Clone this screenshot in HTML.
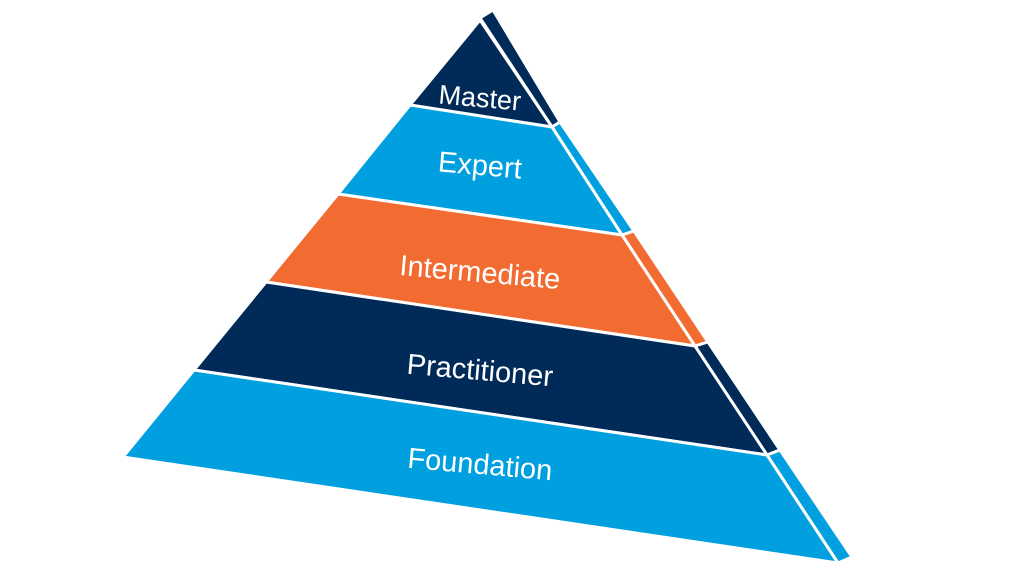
<!DOCTYPE html>
<html><head><meta charset="utf-8"><style>
html,body{margin:0;padding:0;background:#fff;width:1024px;height:580px;overflow:hidden}
text{font-family:"Liberation Sans",sans-serif;fill:#fff;font-size:29px}
</style></head><body>
<svg width="1024" height="580" viewBox="0 0 1024 580" xmlns="http://www.w3.org/2000/svg">
<g stroke="#fff" stroke-width="3" stroke-linejoin="miter">
<polygon points="480,18 493,10 560,122 552,127" fill="#002B59"/>
<polygon points="552,127 560,122 634,231 622,235" fill="#009FDF"/>
<polygon points="622,235 634,231 708,342 695,346" fill="#F26B30"/>
<polygon points="695,346 708,342 780,450 767,455" fill="#002B59"/>
<polygon points="767,455 780,450 852,557 838,563" fill="#009FDF"/>
<polygon points="480,20 552,127 410,105" fill="#002B59"/>
<polygon points="410,105 552,127 622,235 338,194" fill="#009FDF"/>
<polygon points="338,194 622,235 695,346 266,282" fill="#F26B30"/>
<polygon points="266,282 695,346 767,455 194,370" fill="#002B59"/>
<polygon points="194,370 767,455 838,563 123,457" fill="#009FDF"/>
</g>
<text x="480" y="107" text-anchor="middle" transform="rotate(5 480 97)" style="font-size:27px">Master</text>
<text x="480" y="175" text-anchor="middle" transform="rotate(5 480 165)">Expert</text>
<text x="480" y="282" text-anchor="middle" transform="rotate(5 480 272)">Intermediate</text>
<text x="480" y="380" text-anchor="middle" transform="rotate(5 480 370)">Practitioner</text>
<text x="480" y="474" text-anchor="middle" transform="rotate(5 480 464)">Foundation</text>
</svg>
</body></html>
